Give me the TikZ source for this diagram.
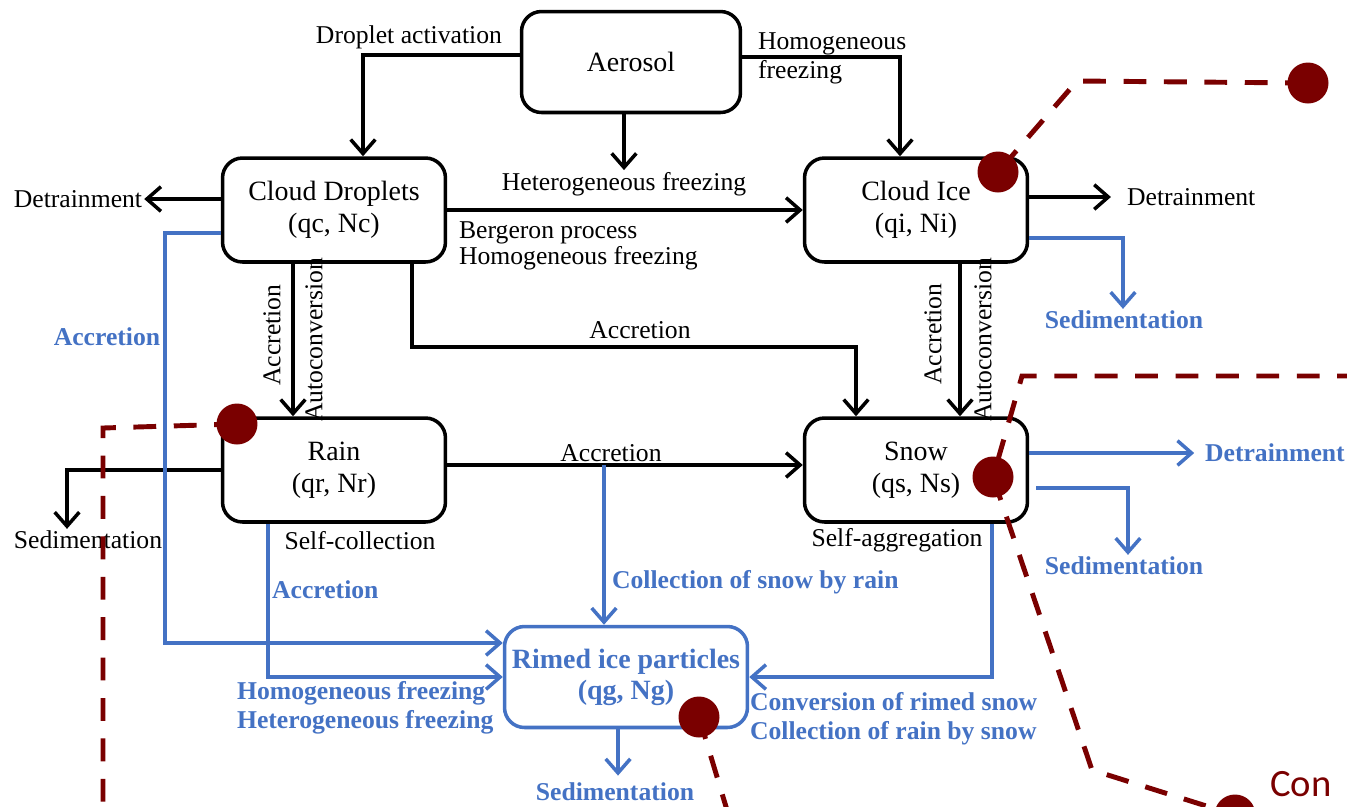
\documentclass[tikz,border=0pt]{standalone}
\usepackage{fontspec}
\setmainfont{Liberation Serif}
\newfontfamily\slidefont{Carlito}
\usetikzlibrary{shapes,arrows.meta,positioning}
\definecolor{flowblue}{RGB}{68,114,196}
\definecolor{markred}{RGB}{122,0,0}
\tikzstyle{block} = [rectangle, draw, line width=2pt, rounded corners=0.4cm,
	minimum width=4.46cm, minimum height=2.08cm, align=center,
	font=\fontsize{15.9}{18.1}\selectfont]
\tikzstyle{rimed} = [block, draw=flowblue, text=flowblue,
	font=\bfseries\fontsize{15.9}{17.6}\selectfont, minimum width=4.86cm, minimum height=2.02cm]
\tikzstyle{note} = [inner sep=1pt, align=left, font=\fontsize{14.6}{16.4}\selectfont]
\tikzstyle{bnote} = [note, text=flowblue, font=\bfseries\fontsize{14.6}{16.4}\selectfont]
\tikzstyle{line} = [draw, line width=2pt, -{Straight Barb[length=8pt,width=14pt]}]
\tikzstyle{bline} = [line, draw=flowblue]
\tikzstyle{trail} = [draw=markred, line width=2.8pt, dash pattern=on 13pt off 10pt]
\tikzstyle{redpin} = [circle, fill=markred, minimum size=0.82cm, inner sep=0pt]

\begin{document}
\begin{tikzpicture}[x=0.02cm, y=-0.02cm]
	\useasboundingbox (0,0) rectangle (1347,806);
	% Place nodes
	\node [block, minimum width=4.38cm, minimum height=2.02cm] (aerosol) at (631,62) {Aerosol};
	\node [block] (droplets) at (334,210) {Cloud Droplets\\(qc, Nc)};
	\node [block] (ice) at (916,210) {Cloud Ice\\(qi, Ni)};
	\node [block] (rain) at (334,470) {Rain\\(qr, Nr)};
	\node [block] (snow) at (916,470) {Snow\\(qs, Ns)};
	\node [rimed] (graupel) at (626,677) {Rimed ice particles\\(qg, Ng)};
	% Place labels
	\node [note, anchor=east] (activation) at (504,37) {Droplet activation};
	\node [note, anchor=west] (homfrz) at (756,58) {Homogeneous\\freezing};
	\node [note] (hetfrz) at (624,184) {Heterogeneous freezing};
	\node [note, anchor=north west, font=\fontsize{14.6}{14.8}\selectfont] (bergeron) at (457,220) {Bergeron process\\Homogeneous freezing};
	\node [note] (detrleft) at (78,199) {Detrainment};
	\node [note, anchor=west] (detrright) at (1125,197) {Detrainment};
	\node [note, rotate=90] (accdr) at (272,335) {Accretion};
	\node [note, rotate=90] (autodr) at (314,340) {Autoconversion};
	\node [note] (accds) at (640,330) {Accretion};
	\node [note, rotate=90] (accis) at (933,334) {Accretion};
	\node [note, rotate=90] (autois) at (983,340) {Autoconversion};
	\node [note] (accrs) at (611,453) {Accretion};
	\node [note] (sedrain) at (88,540) {Sedimentation};
	\node [note] (selfcol) at (360,541) {Self-collection};
	\node [note] (selfagg) at (897,540) {Self-aggregation};
	\node [bnote] (accblue) at (107,337) {Accretion};
	\node [bnote, anchor=west] (accrain) at (270,590) {Accretion};
	\node [bnote, anchor=west] (colsnow) at (610,582) {Collection of snow by rain};
	\node [bnote, anchor=west] (freezing) at (235,708) {Homogeneous freezing\\Heterogeneous freezing};
	\node [bnote, anchor=west] (conversion) at (748,719) {Conversion of rimed snow\\Collection of rain by snow};
	\node [bnote] (sedgraupel) at (615,792) {Sedimentation};
	\node [bnote] (sedice) at (1124,320) {Sedimentation};
	\node [bnote, anchor=west] (detrsnow) at (1203,453) {Detrainment};
	\node [bnote] (sedsnow) at (1124,566) {Sedimentation};
	\coordinate (split) at (604,465);
	% Draw edges
	\path [line] (aerosol.west |- 0,55) -| (droplets.north -| 363,0);
	\path [line] (aerosol.east |- 0,57) -| (ice.north -| 900,0);
	\path [line] (aerosol.south -| hetfrz.north) -- (hetfrz.north);
	\path [line] (droplets.east) -- (ice.west);
	\path [line] (droplets.west |- 0,199) -- (detrleft.east);
	\path [line, shorten >=8pt] (ice.east |- 0,197) -- (detrright.west);
	\path [line] (droplets.south -| 293,0) -- (rain.north -| 293,0);
	\path [line] (droplets.south -| 412,0) -- (412,347) -| (snow.north -| 856,0);
	\path [line] (ice.south -| 960,0) -- (snow.north -| 960,0);
	\path [line] (rain.east |- 0,465) -- (snow.west |- 0,465);
	\path [line] (rain.west) -| (sedrain.north -| 67,0);
	\path [bline] (droplets.west |- 0,233) -| (165,643) -- (graupel.west |- 0,643);
	\path [bline] (rain.south -| 268,0) |- (graupel.west |- 0,677);
	\path [bline] (split) -- (graupel.north -| split);
	\path [bline] (snow.south -| 992,0) |- (graupel.east);
	\path [bline, shorten >=3pt] (graupel.south -| 618,0) -- (sedgraupel.north -| 618,0);
	\path [bline] (ice.east |- 0,238) -| (sedice.north -| 1123,0);
	\path [bline, shorten >=5pt] (snow.east |- 0,453) -- (detrsnow.west);
	\path [bline] ([xshift=4pt]snow.east |- 0,488) -| (sedsnow.north -| 1128,0);
	% Red markers
	\coordinate (p1) at (1308,83);
	\coordinate (p2) at (998,172);
	\coordinate (p3) at (237,424);
	\coordinate (p4) at (993,477);
	\coordinate (p5) at (699,717);
	\coordinate (p6) at (1235,815);
	\path [trail] (p1) -- (1077,81) -- (p2);
	\path [trail] (1360,376) -- (1022,376) -- (p4) -- (1092,770) -- (p6);
	\path [trail] (p3) -- (103,428) -- (103,820);
	\path [trail] (p5) -- (730,820);
	\foreach \p in {1,...,6}
		\node [redpin] (pin\p) at (p\p) {};
	\node [anchor=base west, inner sep=0pt, text=markred, font=\slidefont\fontsize{22}{24}\selectfont] (contxt) at (1270,796) {Con};
\end{tikzpicture}
\end{document}
